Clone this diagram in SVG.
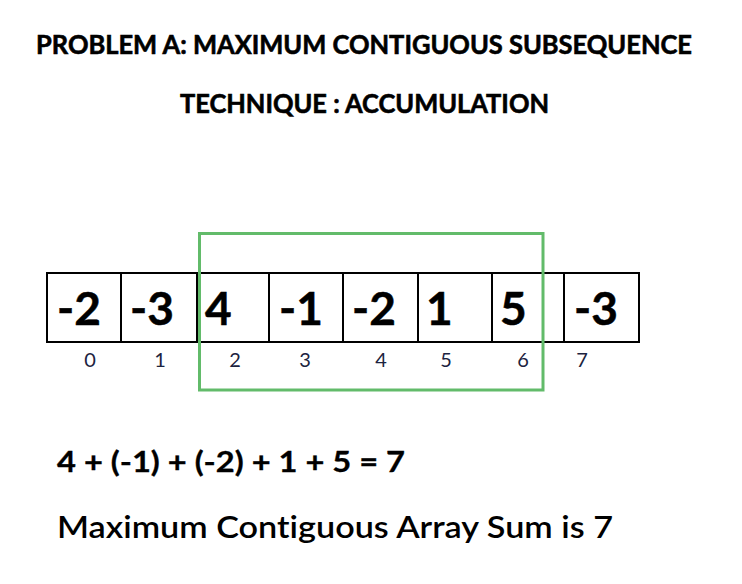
<svg xmlns="http://www.w3.org/2000/svg" width="742" height="584" viewBox="0 0 742 584">
<style>
.t{font-family:Lato,"Open Sans","Liberation Sans",sans-serif;fill:#000;font-variant-ligatures:none;font-feature-settings:"liga" 0}
.title{font-size:26px;font-weight:700;stroke:#000;stroke-width:0.6}
.cell{fill:#fff;stroke:#000;stroke-width:2}
.val{font-size:46px;font-weight:700;stroke:#000;stroke-width:0.5}
.idx{font-size:20px;font-weight:400;fill:#1c2340;text-anchor:middle}
.eq{font-size:28px;font-weight:700;stroke:#000;stroke-width:0.3}
.sum{font-size:30px;font-weight:600}
</style>
<rect width="742" height="584" fill="#fff"/>
<g id="titles">
<text class="t title" x="36" y="54" textLength="656" lengthAdjust="spacingAndGlyphs">PROBLEM A: MAXIMUM CONTIGUOUS SUBSEQUENCE</text>
<text class="t title" x="180" y="113" textLength="369" lengthAdjust="spacingAndGlyphs">TECHNIQUE : ACCUMULATION</text>
</g>
<g id="array">
<g id="cell0"><rect class="cell" x="47" y="273" width="74" height="69"/><text class="t val" x="57" y="325">-2</text></g>
<g id="cell1"><rect class="cell" x="121" y="273" width="76" height="69"/><text class="t val" x="130" y="325">-3</text></g>
<g id="cell2"><rect class="cell" x="197" y="273" width="72" height="69"/><text class="t val" x="205" y="325">4</text></g>
<g id="cell3"><rect class="cell" x="269" y="273" width="74" height="69"/><text class="t val" x="279" y="325">-1</text></g>
<g id="cell4"><rect class="cell" x="343" y="273" width="75" height="69"/><text class="t val" x="352" y="325">-2</text></g>
<g id="cell5"><rect class="cell" x="418" y="273" width="74" height="69"/><text class="t val" x="426" y="325">1</text></g>
<g id="cell6"><rect class="cell" x="492" y="273" width="72" height="69"/><text class="t val" x="500" y="325">5</text></g>
<g id="cell7"><rect class="cell" x="564" y="273" width="75" height="69"/><text class="t val" x="574" y="325">-3</text></g>
</g>
<g id="indices">
<text class="t idx" x="90" y="367">0</text>
<text class="t idx" x="160" y="367">1</text>
<text class="t idx" x="235" y="367">2</text>
<text class="t idx" x="305" y="367">3</text>
<text class="t idx" x="381" y="367">4</text>
<text class="t idx" x="446" y="367">5</text>
<text class="t idx" x="523" y="367">6</text>
<text class="t idx" x="582" y="367">7</text>
</g>
<g id="highlight">
<rect x="199.5" y="233.5" width="343.5" height="156.5" fill="none" stroke="#62bb6a" stroke-width="3"/>
</g>
<g id="result">
<text class="t eq" x="57" y="472" textLength="348" lengthAdjust="spacingAndGlyphs">4 + (-1) + (-2) + 1 + 5 = 7</text>
<text class="t sum" x="57" y="538" textLength="556" lengthAdjust="spacingAndGlyphs">Maximum Contiguous Array Sum is 7</text>
</g>
</svg>
